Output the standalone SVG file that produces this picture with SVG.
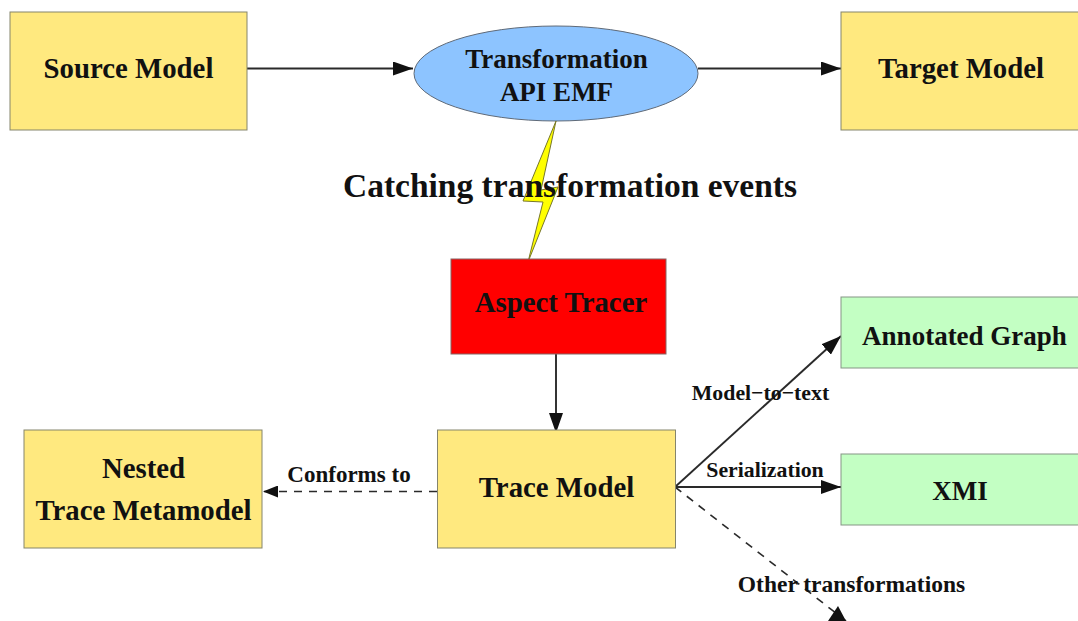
<svg xmlns="http://www.w3.org/2000/svg" width="1078" height="621" viewBox="0 0 1078 621">
<style>
text{font-family:"Liberation Serif","Times New Roman",serif;font-weight:bold;fill:#111;text-anchor:middle}
.n{font-size:27px}
.w{font-size:28.800px}
.l{font-size:21.800px}
.y{fill:#ffe97f;stroke:#85856c;stroke-width:1}
.g{fill:#c3ffc3;stroke:#859585;stroke-width:1}
.c{fill:none;stroke:#2a2a2a;stroke-width:1.9}
.d{stroke-dasharray:8 7;stroke-width:1.6}
</style>
<defs>
<marker id="a" markerUnits="userSpaceOnUse" markerWidth="20" markerHeight="14" refX="20" refY="7" orient="auto"><path d="M0 0L20 7L0 14z" fill="#111"/></marker>
<marker id="b" markerUnits="userSpaceOnUse" markerWidth="15" markerHeight="12" refX="15" refY="6" orient="auto"><path d="M0 0L15 6L0 12z" fill="#111"/></marker>
</defs>
<rect width="1078" height="621" fill="#fff"/>
<g id="connectors">
<path class="c" d="M247 68.500H413" marker-end="url(#a)"/>
<path class="c" d="M698 68.500H841" marker-end="url(#a)"/>
<path class="c" d="M556 354V433" marker-end="url(#a)"/>
<path class="c d" d="M437 491.500H263" marker-end="url(#b)"/>
<path class="c" d="M675 487L841 336" marker-end="url(#a)"/>
<path class="c" d="M675 487H841" marker-end="url(#a)"/>
<path class="c d" d="M675 487L846 621"/>
<path d="M838 606L846 621H828z" fill="#111"/>
</g>
<g id="source-model"><rect class="y" x="10" y="12" width="237" height="118"/><text class="w" x="128.500" y="78">Source Model</text></g>
<g id="transformation-api"><ellipse cx="556" cy="73.500" rx="142" ry="47.500" fill="#8dc4ff" stroke="#5f6a78"/><text class="n" x="556.500" y="68">Transformation</text><text class="n" x="556.500" y="101">API EMF</text></g>
<g id="target-model"><rect class="y" x="841" y="12" width="240" height="118"/><text class="w" x="961" y="78">Target Model</text></g>
<g id="lightning"><path d="M556 121L523 201L543 202L528 262L558 187L541 190Z" fill="#ffff00" stroke="#77772a"/></g>
<text id="catching-label" x="570" y="197" style="font-size:33.500px">Catching transformation events</text>
<g id="aspect-tracer"><rect x="451" y="259" width="215" height="95" fill="#ff0000" stroke="#856565"/><text class="w" x="561" y="312">Aspect Tracer</text></g>
<g id="trace-model"><rect class="y" x="437.500" y="430" width="238" height="118"/><text class="w" x="556.500" y="497">Trace Model</text></g>
<g id="nested-metamodel"><rect class="y" x="24" y="430" width="238" height="118"/><text class="w" x="143.500" y="478">Nested</text><text class="w" x="143.500" y="520">Trace Metamodel</text></g>
<g id="annotated-graph"><rect class="g" x="841" y="297" width="240" height="71"/><text class="n" x="964.500" y="345">Annotated Graph</text></g>
<g id="xmi"><rect class="g" x="841" y="454" width="240" height="71"/><text class="n" x="960" y="500">XMI</text></g>
<text class="l" x="760.500" y="400">Model−to−text</text>
<text class="l" x="765" y="477">Serialization</text>
<text x="349" y="482" style="font-size:23px">Conforms to</text>
<text x="851.500" y="592" style="font-size:23.500px">Other transformations</text>
</svg>
